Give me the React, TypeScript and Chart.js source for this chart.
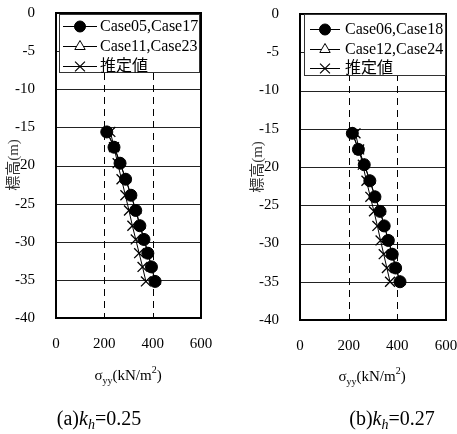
import React, { useEffect, useRef } from "react";
import { Chart, registerables } from "chart.js";

Chart.register(...registerables);

// ---------- data ----------
const xTickValues = [0, 200, 400, 600];
const dashedXValues = [200, 400];
const solidYValues = [-5, -10, -15, -20, -25, -30, -35];

const depthsA = [-15.6, -17.6, -19.7, -21.8, -23.9, -25.9, -27.9, -29.7, -31.5, -33.3, -35.2];
const case05_17 = [210, 240, 265, 288, 310, 330, 347, 364, 380, 395, 410];
const case11_23 = [212, 242, 266, 289, 311, 331, 348, 365, 381, 396, 411];
const estimatedA = [225, 240, 255, 271, 287, 302, 316, 330, 344, 358, 372];

const depthsB = [-15.6, -17.7, -19.7, -21.8, -23.9, -25.8, -27.7, -29.6, -31.4, -33.2, -35.0];
const case06_18 = [215, 240, 264, 287, 308, 329, 346, 363, 379, 393, 411];
const case12_24 = [216, 241, 265, 288, 309, 330, 347, 364, 380, 394, 412];
const estimatedB = [228, 243, 258, 273, 289, 304, 318, 331, 344, 357, 370];

const legendA = ["Case05,Case17", "Case11,Case23", "推定値"];
const legendB = ["Case06,Case18", "Case12,Case24", "推定値"];
const captionA = ["(a)", "k", "h", "=0.25"];
const captionB = ["(b)", "k", "h", "=0.27"];
const yTitle = "標高(m)";

const SERIF = "'Liberation Serif', 'Times New Roman', 'Noto Sans CJK JP', serif";
const H = 434;

type Panel = {
  depths: number[];
  s1: number[];
  s2: number[];
  est: number[];
  labels: string[];
  caption: string[];
  width: number;
  left: number;
  area: { left: number; right: number; top: number; bottom: number };
  legend: { x0: number; x1: number; y0: number; y1: number; rows: number[]; lx0: number; lx1: number; tx: number };
  yTitlePos: { x: number; y: number };
  xTitlePos: { x: number; y: number };
  capPos: { x: number; y: number };
};

const panels: Panel[] = [
  {
    depths: depthsA, s1: case05_17, s2: case11_23, est: estimatedA, labels: legendA, caption: captionA,
    width: 228, left: 0,
    area: { left: 56, right: 201, top: 13, bottom: 318 },
    legend: { x0: 59, x1: 200, y0: 14, y1: 73, rows: [26, 46, 66], lx0: 63, lx1: 97, tx: 100 },
    yTitlePos: { x: 14, y: 165 },
    xTitlePos: { x: 128, y: 380 },
    capPos: { x: 99, y: 425 },
  },
  {
    depths: depthsB, s1: case06_18, s2: case12_24, est: estimatedB, labels: legendB, caption: captionB,
    width: 229, left: 228,
    area: { left: 72, right: 218, top: 14, bottom: 320 },
    legend: { x0: 76, x1: 218, y0: 14, y1: 76, rows: [29, 49, 68], lx0: 82, lx1: 112, tx: 117 },
    yTitlePos: { x: 30, y: 167 },
    xTitlePos: { x: 144, y: 381 },
    capPos: { x: 164, y: 425 },
  },
];

type Seg = { t: string; size: number; dy?: number; italic?: boolean };

function drawSegments(ctx: CanvasRenderingContext2D, segs: Seg[], cx: number, baseline: number) {
  let total = 0;
  const widths = segs.map((s) => {
    ctx.font = `${s.italic ? "italic " : ""}${s.size}px ${SERIF}`;
    const w = ctx.measureText(s.t).width;
    total += w;
    return w;
  });
  let x = cx - total / 2;
  ctx.textAlign = "left";
  ctx.textBaseline = "alphabetic";
  segs.forEach((s, i) => {
    ctx.font = `${s.italic ? "italic " : ""}${s.size}px ${SERIF}`;
    ctx.fillText(s.t, x, baseline + (s.dy || 0));
    x += widths[i];
  });
}

function drawMarker(ctx: CanvasRenderingContext2D, kind: number, x: number, y: number) {
  ctx.save();
  ctx.lineWidth = 1;
  ctx.strokeStyle = "#000";
  if (kind === 0) {
    ctx.fillStyle = "#000";
    ctx.beginPath();
    ctx.arc(x, y, 5.5, 0, Math.PI * 2);
    ctx.fill();
    ctx.stroke();
  } else if (kind === 1) {
    const r = 6;
    ctx.fillStyle = "#fff";
    ctx.beginPath();
    ctx.moveTo(x, y - r);
    ctx.lineTo(x + r * 0.866, y + r * 0.5);
    ctx.lineTo(x - r * 0.866, y + r * 0.5);
    ctx.closePath();
    ctx.fill();
    ctx.stroke();
  } else {
    const r = 7 * 0.7071;
    ctx.lineWidth = 1.2;
    ctx.beginPath();
    ctx.moveTo(x - r, y - r);
    ctx.lineTo(x + r, y + r);
    ctx.moveTo(x + r, y - r);
    ctx.lineTo(x - r, y + r);
    ctx.stroke();
  }
  ctx.restore();
}

function makePlugin(p: Panel) {
  return {
    id: "panelDecor",
    beforeDatasetsDraw(chart: any) {
      const ctx: CanvasRenderingContext2D = chart.ctx;
      const { left, right, top, bottom } = chart.chartArea;
      const xs = chart.scales.x;
      const ys = chart.scales.y;
      ctx.save();
      ctx.lineWidth = 1;
      ctx.strokeStyle = "#222";
      solidYValues.forEach((v) => {
        const y = Math.round(ys.getPixelForValue(v)) + 0.5;
        ctx.beginPath();
        ctx.moveTo(left, y);
        ctx.lineTo(right, y);
        ctx.stroke();
      });
      ctx.strokeStyle = "#000";
      ctx.setLineDash([7, 5]);
      dashedXValues.forEach((v) => {
        const x = Math.round(xs.getPixelForValue(v)) + 0.5;
        ctx.beginPath();
        ctx.moveTo(x, top);
        ctx.lineTo(x, bottom);
        ctx.stroke();
      });
      ctx.setLineDash([]);
      ctx.lineWidth = 2;
      ctx.strokeStyle = "#000";
      ctx.strokeRect(left, top, right - left, bottom - top);
      ctx.restore();
    },
    afterDraw(chart: any) {
      const ctx: CanvasRenderingContext2D = chart.ctx;
      const L = p.legend;
      ctx.save();
      // legend
      ctx.fillStyle = "#fff";
      ctx.fillRect(L.x0, L.y0, L.x1 - L.x0, L.y1 - L.y0);
      ctx.strokeStyle = "#333";
      ctx.lineWidth = 1;
      ctx.strokeRect(L.x0 + 0.5, L.y0 + 0.5, L.x1 - L.x0 - 1, L.y1 - L.y0 - 1);
      p.labels.forEach((lab, i) => {
        const y = L.rows[i];
        ctx.strokeStyle = "#000";
        ctx.lineWidth = 1;
        ctx.beginPath();
        ctx.moveTo(L.lx0, y + 0.5);
        ctx.lineTo(L.lx1, y + 0.5);
        ctx.stroke();
        drawMarker(ctx, i, (L.lx0 + L.lx1) / 2, y + 0.5);
        ctx.fillStyle = "#000";
        ctx.font = `16px ${SERIF}`;
        ctx.textAlign = "left";
        ctx.textBaseline = "middle";
        ctx.fillText(lab, L.tx, y + 1);
      });
      // y title
      ctx.save();
      ctx.translate(p.yTitlePos.x, p.yTitlePos.y);
      ctx.rotate(-Math.PI / 2);
      ctx.fillStyle = "#333";
      ctx.font = `15px ${SERIF}`;
      ctx.textAlign = "center";
      ctx.textBaseline = "middle";
      ctx.fillText(yTitle, 0, 0);
      ctx.restore();
      // x title
      ctx.fillStyle = "#000";
      drawSegments(
        ctx,
        [
          { t: "σ", size: 15 },
          { t: "yy", size: 10, dy: 4 },
          { t: "(kN/m", size: 15 },
          { t: "2", size: 10, dy: -7 },
          { t: ")", size: 15 },
        ],
        p.xTitlePos.x,
        p.xTitlePos.y
      );
      // caption
      drawSegments(
        ctx,
        [
          { t: p.caption[0], size: 20 },
          { t: p.caption[1], size: 20, italic: true },
          { t: p.caption[2], size: 14, italic: true, dy: 4 },
          { t: p.caption[3], size: 20 },
        ],
        p.capPos.x,
        p.capPos.y
      );
      ctx.restore();
    },
  };
}

function ChartPanel({ p }: { p: Panel }) {
  const ref = useRef<HTMLCanvasElement | null>(null);
  useEffect(() => {
    if (!ref.current) return;
    const mk = (vals: number[]) => p.depths.map((d, i) => ({ x: vals[i], y: d }));
    const chart = new Chart(ref.current, {
      type: "scatter",
      data: {
        datasets: [
          {
            label: p.labels[0],
            data: mk(p.s1),
            showLine: true,
            borderColor: "#000",
            borderWidth: 1,
            pointStyle: "circle",
            pointRadius: 6,
            pointBackgroundColor: "#000",
            pointBorderColor: "#000",
            pointBorderWidth: 1,
          },
          {
            label: p.labels[1],
            data: mk(p.s2),
            showLine: true,
            borderColor: "#000",
            borderWidth: 1,
            pointStyle: "triangle",
            pointRadius: 6,
            pointBackgroundColor: "#fff",
            pointBorderColor: "#000",
            pointBorderWidth: 1,
          },
          {
            label: p.labels[2],
            data: mk(p.est),
            showLine: true,
            borderColor: "#000",
            borderWidth: 1,
            pointStyle: "crossRot",
            pointRadius: 7,
            pointBorderColor: "#000",
            pointBorderWidth: 1.3,
          },
        ],
      },
      options: {
        responsive: false,
        animation: false,
        devicePixelRatio: 1,
        layout: { padding: { left: 0, top: p.area.top, right: p.width - p.area.right, bottom: 0 } },
        plugins: { legend: { display: false }, tooltip: { enabled: false }, title: { display: false } },
        scales: {
          x: {
            type: "linear",
            min: 0,
            max: 600,
            afterBuildTicks: (s: any) => {
              s.ticks = xTickValues.map((v) => ({ value: v }));
            },
            afterFit: (s: any) => {
              s.height = H - p.area.bottom;
              s.paddingLeft = 0;
              s.paddingRight = 0;
              s.paddingTop = 0;
              s.paddingBottom = 0;
            },
            grid: { display: false },
            border: { display: false },
            ticks: { color: "#000", font: { family: SERIF, size: 15 }, padding: 9, maxRotation: 0, autoSkip: false },
          },
          y: {
            type: "linear",
            min: -40,
            max: 0,
            afterFit: (s: any) => {
              s.width = p.area.left;
              s.paddingLeft = 0;
              s.paddingRight = 0;
              s.paddingTop = 0;
              s.paddingBottom = 0;
            },
            grid: { display: false },
            border: { display: false },
            ticks: { stepSize: 5, color: "#000", font: { family: SERIF, size: 15 }, padding: 13, autoSkip: false },
          },
        },
      } as any,
      plugins: [makePlugin(p)],
    });
    return () => chart.destroy();
  }, [p]);
  return (
    <canvas
      ref={ref}
      width={p.width}
      height={H}
      style={{ position: "absolute", left: p.left, top: 0, width: p.width, height: H }}
    />
  );
}

export default function App() {
  return (
    <div style={{ position: "absolute", left: 0, top: 0, width: 457, height: H, background: "#fff" }}>
      {panels.map((p, i) => (
        <ChartPanel key={i} p={p} />
      ))}
    </div>
  );
}
